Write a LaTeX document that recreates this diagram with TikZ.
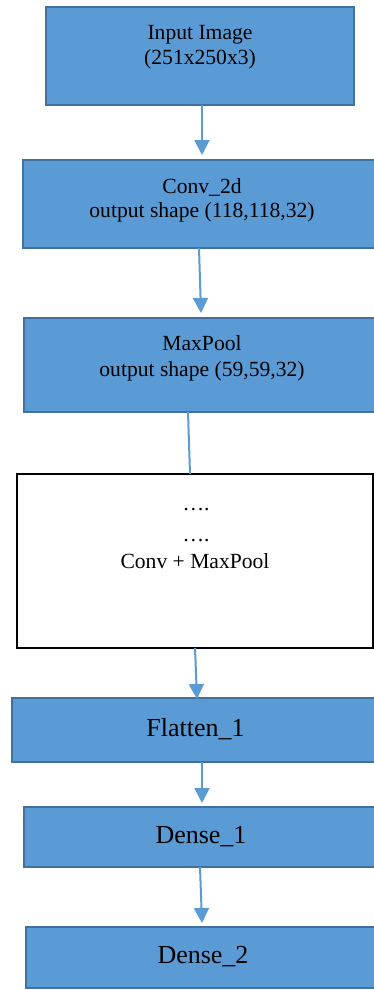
\documentclass[tikz,border=0pt]{standalone}
\usepackage{fontspec}
\setmainfont{Liberation Serif}
\usetikzlibrary{arrows.meta,calc}
\definecolor{layerfill}{HTML}{5B9BD5}
\definecolor{layeredge}{HTML}{41719C}
\tikzset{
  layer/.style={draw=layeredge, fill=layerfill, line width=1.5pt, anchor=north west, inner sep=0pt, outer sep=0pt},
  plainbox/.style={draw=black, fill=white, line width=1.4pt, anchor=north west, inner sep=0pt, outer sep=0pt},
  smalltext/.style={font=\fontsize{21.6}{25}\selectfont, anchor=base, inner sep=0pt},
  largetext/.style={font=\fontsize{26}{30}\selectfont, anchor=base, inner sep=0pt},
  flow/.style={draw=layerfill, line width=2pt, -{Triangle[length=15pt,width=15pt]}},
  link/.style={draw=layerfill, line width=2pt},
}
\begin{document}
\begin{tikzpicture}[x=1pt,y=-1pt]
\useasboundingbox (0,0) rectangle (374,990);
\clip (0,0) rectangle (374,990);

% layer boxes
\node[layer, minimum width=308pt, minimum height=98pt] (input) at (46,7) {};
\node[layer, minimum width=358pt, minimum height=88pt] (conv) at (23,160) {};
\node[layer, minimum width=356pt, minimum height=94pt] (maxp) at (24,318) {};
\node[plainbox, minimum width=356pt, minimum height=174pt] (stack) at (17,474) {};
\node[layer, minimum width=367pt, minimum height=64pt] (flat) at (12,698) {};
\node[layer, minimum width=354pt, minimum height=60pt] (dense1) at (24,807) {};
\node[layer, minimum width=354pt, minimum height=61pt] (dense2) at (26,927) {};

% labels
\node[smalltext] (inputA) at (200,39.5) {Input Image};
\node[smalltext] (inputB) at (200,64) {(251x250x3)};
\node[smalltext] (convA) at (202,193) {Conv\_2d};
\node[smalltext] (convB) at (202,217) {output shape (118,118,32)};
\node[smalltext] (maxpA) at (202,350) {MaxPool};
\node[smalltext] (maxpB) at (202,376) {output shape (59,59,32)};
\node[smalltext] (stackA) at (196,510) {….};
\node[smalltext] (stackB) at (196,541) {….};
\node[smalltext] (stackC) at (195,568) {Conv + MaxPool};
\node[largetext] (flatA) at (195.5,736) {Flatten\_1};
\node[largetext] (dense1A) at (201,843) {Dense\_1};
\node[largetext] (dense2A) at (203,963) {Dense\_2};

% connectors
\draw[flow] (input.south -| conv.north) -- ($(conv.north)+(0,-5)$);
\draw[flow] ($(conv.south)+(-3,0)$) -- ($(maxp.north)+(-1,-5)$);
\draw[link] ($(maxp.south)+(-14,0)$) -- ($(stack.north)+(-5,0)$);
\draw[flow] (stack.south) -- ($(flat.north)+(1.5,1)$);
\draw[flow] ($(flat.south)+(6.5,0)$) -- ($(dense1.north)+(1,-4)$);
\draw[flow] ($(dense1.south)+(-1,0)$) -- ($(dense2.north)+(-1,-4)$);
\end{tikzpicture}
\end{document}
